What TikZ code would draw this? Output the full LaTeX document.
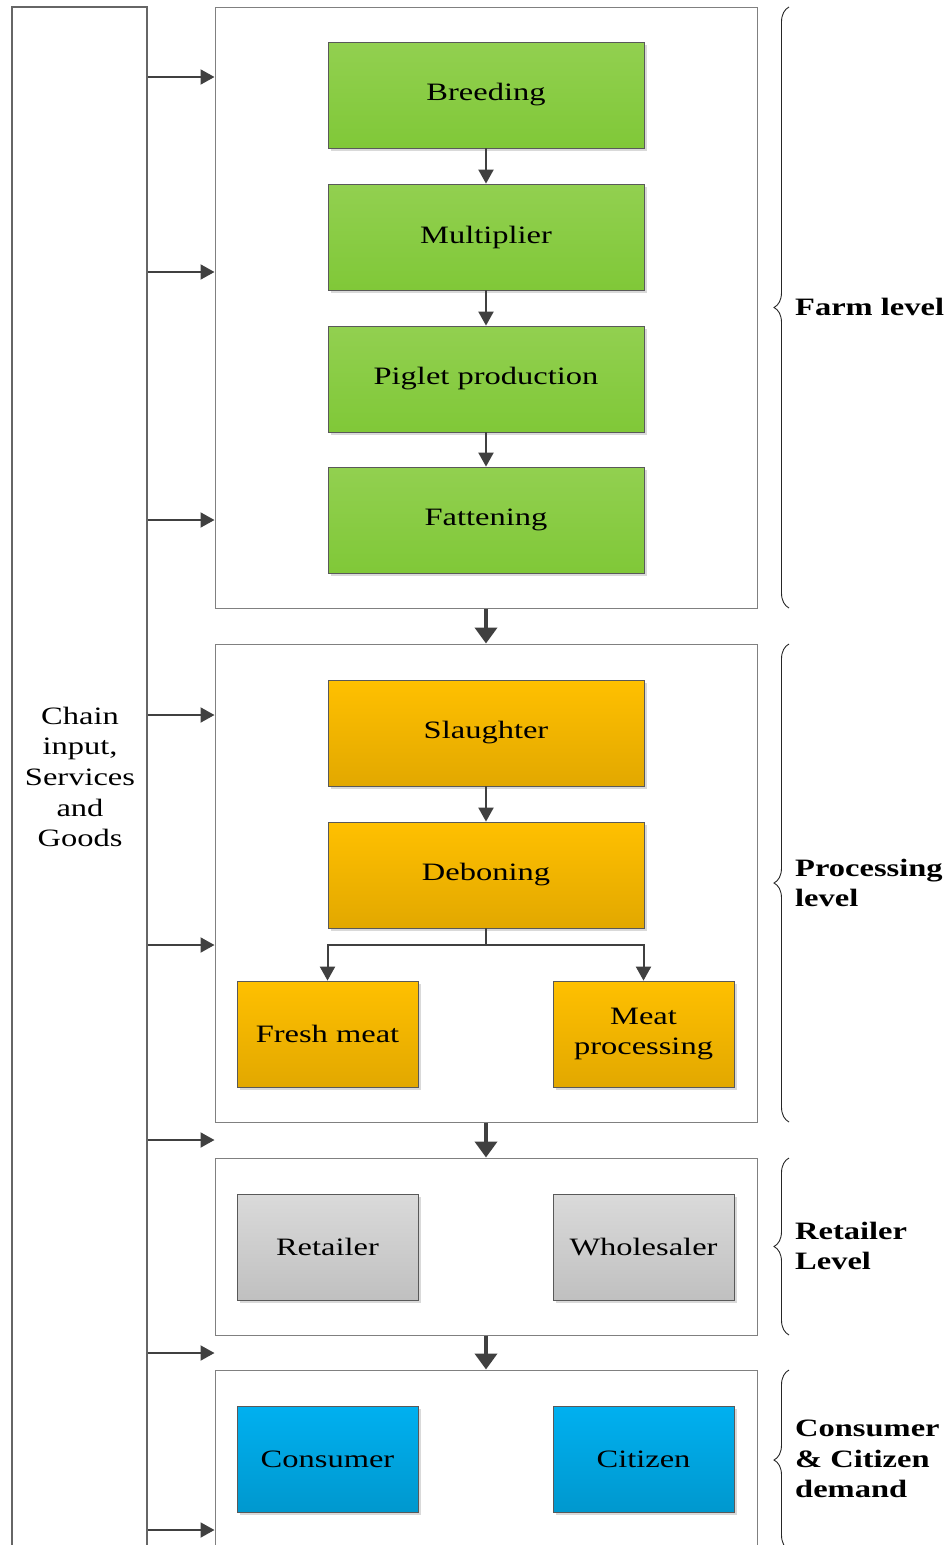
\documentclass[tikz,border=0pt]{standalone}
\usepackage{fontspec}
\setmainfont{Liberation Serif}[FakeStretch=1.3]
\usetikzlibrary{arrows.meta,shadows,decorations.pathreplacing}
\definecolor{greentop}{HTML}{92D050}
\definecolor{greenbot}{HTML}{80C838}
\definecolor{orangetop}{HTML}{FFC000}
\definecolor{orangebot}{HTML}{E2A800}
\definecolor{greytop}{HTML}{DADADA}
\definecolor{greybot}{HTML}{C0C0C0}
\definecolor{bluetop}{HTML}{00B0F0}
\definecolor{bluebot}{HTML}{0098CE}
\definecolor{arrowgrey}{HTML}{404040}
\tikzset{
  stage/.style={draw=black!65,line width=0.8pt,minimum width=316pt,minimum height=106pt,
    inner sep=0pt,align=center,font=\fontsize{25}{30.5}\selectfont,
    drop shadow={shadow xshift=3pt,shadow yshift=-3pt,fill=black!15,opacity=1}},
  narrow/.style={minimum width=181pt},
  farmstage/.style={stage,top color=greentop,bottom color=greenbot},
  procstage/.style={stage,top color=orangetop,bottom color=orangebot},
  retstage/.style={stage,narrow,top color=greytop,bottom color=greybot},
  consstage/.style={stage,narrow,top color=bluetop,bottom color=bluebot},
  levelbox/.style={draw=black!50,line width=1pt,fill=white,minimum width=542pt,inner sep=0pt},
  flow/.style={draw=arrowgrey,line width=2pt,-{Triangle[length=14pt,width=15pt]}},
  bigflow/.style={draw=arrowgrey,line width=4.5pt,-{Triangle[length=16pt,width=22pt]}},
  levelbrace/.style={decorate,decoration={brace,amplitude=15pt},draw=black!85,line width=0.9pt},
  levellabel/.style={font=\bfseries\fontsize{25}{30.5}\selectfont,align=left,anchor=west,inner sep=0pt}
}
\begin{document}
\begin{tikzpicture}[x=1pt,y=-1pt]
\useasboundingbox (0,0) rectangle (951,1545);
% input column
\node[draw=black!60,line width=1.2pt,minimum width=135pt,minimum height=1560pt,inner sep=0pt] (chain) at (79.5,787) {};
\node[align=center,font=\fontsize{25}{30.7}\selectfont] (chaintxt) at (80,777) {Chain\\input,\\Services\\and\\Goods};
% level boxes
\node[levelbox,minimum height=601pt] (farmlvl) at (486,307.5) {};
\node[levelbox,minimum height=478pt] (proclvl) at (486,883) {};
\node[levelbox,minimum height=177pt] (retlvl) at (486,1246.5) {};
\node[levelbox,minimum height=190pt] (conslvl) at (486,1465) {};
% farm
\node[farmstage] (breeding) at (486,95) {Breeding};
\node[farmstage] (multiplier) at (486,237) {Multiplier};
\node[farmstage] (piglet) at (486,379) {Piglet production};
\node[farmstage] (fattening) at (486,520) {Fattening};
% processing
\node[procstage] (slaughter) at (486,733) {Slaughter};
\node[procstage] (deboning) at (486,875) {Deboning};
\node[procstage,narrow] (freshmeat) at (327.5,1034) {Fresh meat};
\node[procstage,narrow] (meatproc) at (643.5,1034) {Meat\\processing};
% retail
\node[retstage] (retailer) at (327.5,1247) {Retailer};
\node[retstage] (wholesaler) at (643.5,1247) {Wholesaler};
% demand
\node[consstage] (consumer) at (327.5,1459) {Consumer};
\node[consstage] (citizen) at (643.5,1459) {Citizen};
% flows
\draw[flow] (breeding) -- (multiplier);
\draw[flow] (multiplier) -- (piglet);
\draw[flow] (piglet) -- (fattening);
\draw[flow] (slaughter) -- (deboning);
\draw[flow] (deboning.south) -- ++(0,17) -| (freshmeat.north);
\draw[flow] (deboning.south) -- ++(0,17) -| (meatproc.north);
\draw[bigflow] (farmlvl) -- (proclvl);
\draw[bigflow] (proclvl) -- (retlvl);
\draw[bigflow] (retlvl) -- (conslvl);
\foreach \y in {77,272,520,715,945,1140,1353,1530}
  \draw[flow] (chain.east |- 0,\y) -- (farmlvl.west |- 0,\y);
% braces
\draw[levelbrace] (789,608) -- (789,7);
\draw[levelbrace] (789,1122) -- (789,644);
\draw[levelbrace] (789,1335) -- (789,1158);
\draw[levelbrace] (789,1550) -- (789,1370);
\node[levellabel] (farmtxt) at (795,307) {Farm level};
\node[levellabel] (proctxt) at (795,883) {Processing\\level};
\node[levellabel] (rettxt) at (795,1246) {Retailer\\Level};
\node[levellabel] (constxt) at (795,1459) {Consumer\\\& Citizen\\demand};
\end{tikzpicture}
\end{document}
